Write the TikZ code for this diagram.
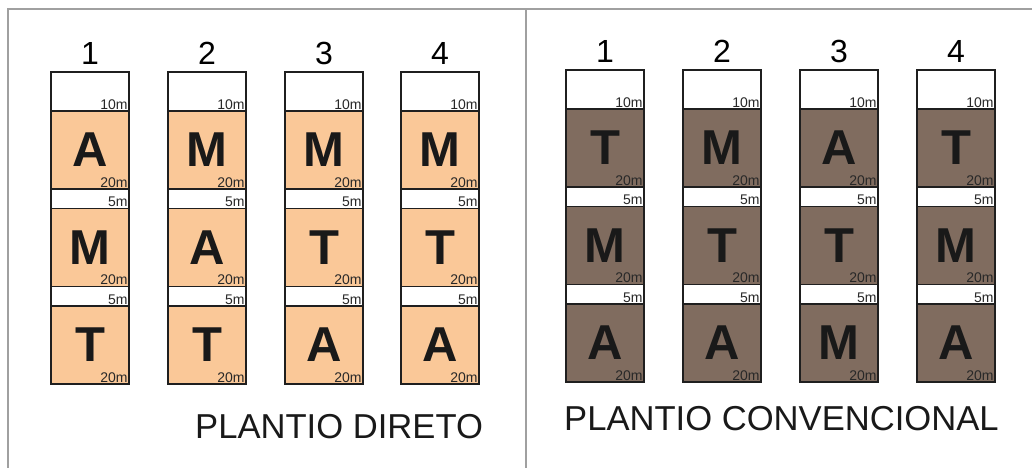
\documentclass[tikz,border=0pt]{standalone}
\usepackage{fontspec}
\setmainfont{Liberation Sans}
\definecolor{orangefill}{RGB}{250,200,152}
\definecolor{brownfill}{RGB}{128,108,95}
\definecolor{framegray}{RGB}{160,160,160}
\definecolor{labgray}{RGB}{40,40,40}
\newcommand\plotcolumn[8]{%
  \node[hdr] (#1h) at (#2,#3) {};
  \node[blk,fill=#8] (#1a) at (#1h.south west) {};
  \node[strip] (#1s) at (#1a.south west) {};
  \node[blk,fill=#8] (#1b) at (#1s.south west) {};
  \node[strip] (#1t) at (#1b.south west) {};
  \node[blk,fill=#8] (#1c) at (#1t.south west) {};
  \node[num] (#1n) at ([yshift=7pt]#1h.north) {#4};
  \node[big] (#1A) at (#1a.center) {#5};
  \node[big] (#1B) at (#1b.center) {#6};
  \node[big] (#1C) at (#1c.center) {#7};
  \node[lab] (#1l1) at ([xshift=-1.2pt,yshift=1.2pt]#1h.south east) {10m};
  \node[lab] (#1l2) at ([xshift=-1.2pt,yshift=1.2pt]#1a.south east) {20m};
  \node[lab] (#1l3) at ([xshift=-1.2pt,yshift=1.2pt]#1s.south east) {5m};
  \node[lab] (#1l4) at ([xshift=-1.2pt,yshift=1.2pt]#1b.south east) {20m};
  \node[lab] (#1l5) at ([xshift=-1.2pt,yshift=1.2pt]#1t.south east) {5m};
  \node[lab] (#1l6) at ([xshift=-1.2pt,yshift=1.2pt]#1c.south east) {20m};
}
\begin{document}
\begin{tikzpicture}[x=1pt,y=-1pt,
  cell/.style={draw=black!88,line width=1.5pt,inner sep=0pt,minimum width=78pt,anchor=north west,outer sep=0pt},
  hdr/.style={cell,fill=white,minimum height=39pt},
  blk/.style={cell,minimum height=78pt},
  strip/.style={cell,fill=white,minimum height=19.5pt},
  num/.style={anchor=base,inner sep=0pt,font=\fontsize{32}{32}\selectfont},
  big/.style={inner sep=0pt,text=black!90,font=\fontsize{49}{49}\selectfont\bfseries},
  lab/.style={anchor=south east,inner sep=0pt,text=labgray,font=\fontsize{14}{14}\selectfont},
  title/.style={anchor=base west,inner sep=0pt,text=black!90,font=\fontsize{34.6}{34.6}\selectfont},
  frame/.style={draw=framegray,line width=1.3pt}]
\useasboundingbox (0,0) rectangle (1032,468);
\draw[frame] (1032,9) -- (8,9) -- (8,468);
\draw[frame] (526,9) -- (526,468);
\plotcolumn{L1}{51}{72}{1}{A}{M}{T}{orangefill}
\plotcolumn{L2}{168}{72}{2}{M}{A}{T}{orangefill}
\plotcolumn{L3}{285}{72}{3}{M}{T}{A}{orangefill}
\plotcolumn{L4}{401}{72}{4}{M}{T}{A}{orangefill}
\plotcolumn{R1}{566}{70}{1}{T}{M}{A}{brownfill}
\plotcolumn{R2}{683}{70}{2}{M}{T}{A}{brownfill}
\plotcolumn{R3}{800}{70}{3}{A}{T}{M}{brownfill}
\plotcolumn{R4}{917}{70}{4}{T}{M}{A}{brownfill}
\node[title] (tl) at (195,438) {PLANTIO DIRETO};
\node[title] (tr) at (564,430) {PLANTIO CONVENCIONAL};
\end{tikzpicture}
\end{document}
